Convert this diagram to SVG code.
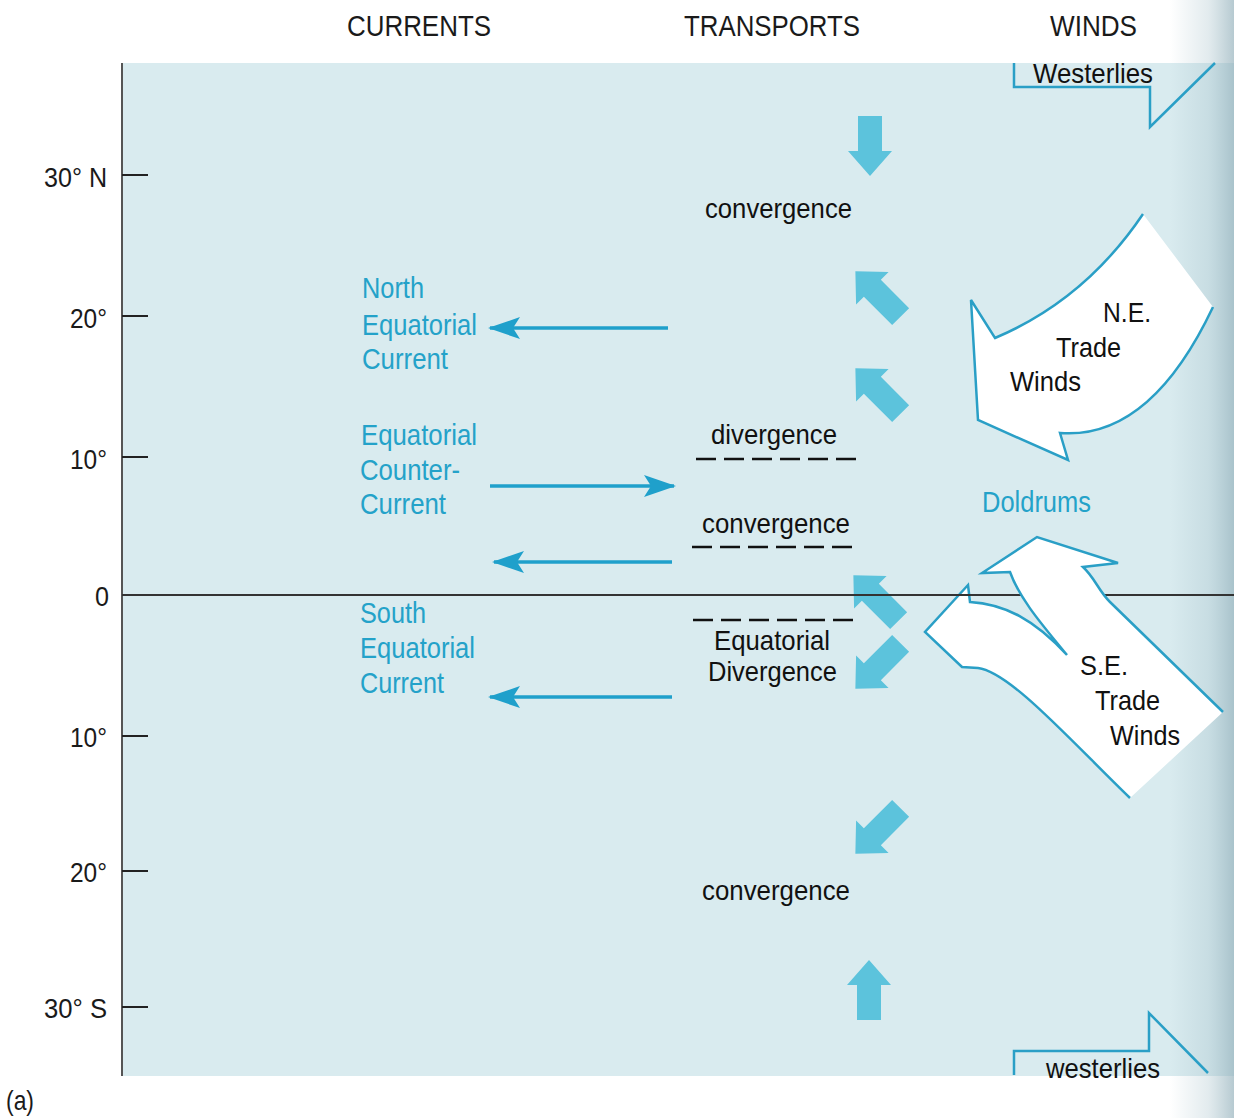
<svg xmlns="http://www.w3.org/2000/svg" width="1234" height="1118" viewBox="0 0 1234 1118">
<defs>
  <linearGradient id="shade" x1="0" y1="0" x2="1" y2="0">
    <stop offset="0" stop-color="#9fbcc6" stop-opacity="0"/>
    <stop offset="0.6" stop-color="#9fbcc6" stop-opacity="0.3"/>
    <stop offset="1" stop-color="#8fadb8" stop-opacity="0.65"/>
  </linearGradient>
  <marker id="head" viewBox="0 0 32 24" refX="30" refY="12" markerWidth="32" markerHeight="24" markerUnits="userSpaceOnUse" orient="auto">
    <path d="M0,1 L32,12 L0,23 L7,12 Z" fill="#1fa0cb"/>
  </marker>
  <path id="tarrow" d="M0,-30 L22,-5 L12,-5 L12,30 L-12,30 L-12,-5 L-22,-5 Z"/>
  <path id="tarrowd" d="M0,-32 L23,-8 L12,-8 L12,32 L-12,32 L-12,-8 L-23,-8 Z"/>
</defs>
<style>
  text { font-family: "Liberation Sans", Arial, sans-serif; }
  .hdr { font-size: 30px; fill: #1a1a1a; }
  .ax { font-size: 28px; fill: #1a1a1a; }
  .cur { font-size: 29px; fill: #24a2c9; }
  .lbl { font-size: 28px; fill: #111; }
  .curline { stroke: #1fa0cb; stroke-width: 3.5; fill: none; marker-end: url(#head); }
  .tr { fill: #5cc3dc; }
  .dash { stroke: #111; stroke-width: 2.5; stroke-dasharray: 20 8; }
  .wind { fill: #ffffff; stroke: none; }
  .windline { fill: none; stroke: #2a9fc6; stroke-width: 2.5; stroke-linejoin: miter; }
  .tick { stroke: #222; stroke-width: 2; }
</style>

<rect x="0" y="0" width="1234" height="1118" fill="#ffffff"/>
<g id="panel">
  <rect x="122" y="63" width="1112" height="1013" fill="#d9ebef"/>
  <rect x="1170" y="0" width="64" height="1118" fill="url(#shade)"/>
  <line x1="122" y1="63" x2="122" y2="1076" stroke="#555" stroke-width="2"/>
</g>

<g id="headers">
  <text class="hdr" x="347" y="36" textLength="144" lengthAdjust="spacingAndGlyphs">CURRENTS</text>
  <text class="hdr" x="684" y="36" textLength="176" lengthAdjust="spacingAndGlyphs">TRANSPORTS</text>
  <text class="hdr" x="1050" y="36" textLength="87" lengthAdjust="spacingAndGlyphs">WINDS</text>
</g>

<g id="axis">
  <line class="tick" x1="122" y1="175" x2="148" y2="175"/>
  <line class="tick" x1="122" y1="316" x2="148" y2="316"/>
  <line class="tick" x1="122" y1="457" x2="148" y2="457"/>
  <line class="tick" x1="122" y1="736" x2="148" y2="736"/>
  <line class="tick" x1="122" y1="871" x2="148" y2="871"/>
  <line class="tick" x1="122" y1="1007" x2="148" y2="1007"/>
  <text class="ax" x="44" y="187" textLength="63" lengthAdjust="spacingAndGlyphs">30° N</text>
  <text class="ax" x="70" y="328" textLength="37" lengthAdjust="spacingAndGlyphs">20°</text>
  <text class="ax" x="70" y="469" textLength="37" lengthAdjust="spacingAndGlyphs">10°</text>
  <text class="ax" x="95" y="606" textLength="14" lengthAdjust="spacingAndGlyphs">0</text>
  <text class="ax" x="70" y="747" textLength="37" lengthAdjust="spacingAndGlyphs">10°</text>
  <text class="ax" x="70" y="882" textLength="37" lengthAdjust="spacingAndGlyphs">20°</text>
  <text class="ax" x="44" y="1018" textLength="63" lengthAdjust="spacingAndGlyphs">30° S</text>
  <text class="ax" x="6" y="1110" textLength="28" lengthAdjust="spacingAndGlyphs">(a)</text>
</g>

<g id="transport-arrows">
  <use href="#tarrow" class="tr" transform="translate(870,146) rotate(180)"/>
  <use href="#tarrowd" class="tr" transform="translate(878,294) rotate(-45)"/>
  <use href="#tarrowd" class="tr" transform="translate(878,391) rotate(-45)"/>
  <use href="#tarrowd" class="tr" transform="translate(876,598) rotate(-45)"/>
  <use href="#tarrowd" class="tr" transform="translate(878,666) rotate(-135)"/>
  <use href="#tarrowd" class="tr" transform="translate(878,831) rotate(-135)"/>
  <use href="#tarrow" class="tr" transform="translate(869,990)"/>
</g>

<line id="equator" x1="122" y1="595" x2="1234" y2="595" stroke="#333" stroke-width="2"/>

<g id="connectors">
  <line class="curline" x1="668" y1="328" x2="490" y2="328"/>
  <line class="curline" x1="490" y1="486" x2="674" y2="486"/>
  <line class="curline" x1="672" y1="562" x2="494" y2="562"/>
  <line class="curline" x1="672" y1="697" x2="490" y2="697"/>
</g>

<g id="currents-labels">
  <text class="cur" x="362" y="298" textLength="62" lengthAdjust="spacingAndGlyphs">North</text>
  <text class="cur" x="362" y="335" textLength="115" lengthAdjust="spacingAndGlyphs">Equatorial</text>
  <text class="cur" x="362" y="369" textLength="86" lengthAdjust="spacingAndGlyphs">Current</text>
  <text class="cur" x="361" y="445" textLength="116" lengthAdjust="spacingAndGlyphs">Equatorial</text>
  <text class="cur" x="360" y="480" textLength="100" lengthAdjust="spacingAndGlyphs">Counter-</text>
  <text class="cur" x="360" y="514" textLength="86" lengthAdjust="spacingAndGlyphs">Current</text>
  <text class="cur" x="360" y="623" textLength="66" lengthAdjust="spacingAndGlyphs">South</text>
  <text class="cur" x="360" y="658" textLength="115" lengthAdjust="spacingAndGlyphs">Equatorial</text>
  <text class="cur" x="360" y="693" textLength="84" lengthAdjust="spacingAndGlyphs">Current</text>
</g>

<g id="transport-labels">
  <text class="lbl" x="705" y="218" textLength="147" lengthAdjust="spacingAndGlyphs">convergence</text>
  <text class="lbl" x="711" y="444" textLength="126" lengthAdjust="spacingAndGlyphs">divergence</text>
  <line class="dash" x1="696" y1="459" x2="860" y2="459"/>
  <text class="lbl" x="702" y="533" textLength="148" lengthAdjust="spacingAndGlyphs">convergence</text>
  <line class="dash" x1="692" y1="547" x2="856" y2="547"/>
  <line class="dash" x1="693" y1="620" x2="857" y2="620"/>
  <text class="lbl" x="714" y="650" textLength="116" lengthAdjust="spacingAndGlyphs">Equatorial</text>
  <text class="lbl" x="708" y="681" textLength="129" lengthAdjust="spacingAndGlyphs">Divergence</text>
  <text class="lbl" x="702" y="900" textLength="148" lengthAdjust="spacingAndGlyphs">convergence</text>
</g>

<g id="westerlies-north">
  <polyline class="windline" points="1014,63 1014,87 1150,87 1150,127 1215,63"/>
  <text class="lbl" x="1033" y="83" textLength="120" lengthAdjust="spacingAndGlyphs">Westerlies</text>
</g>

<g id="ne-trade-winds">
  <path class="wind" d="M1143,214 Q1085,300 995,338 L971,300 L978,420 L1068,460 L1060,433 Q1150,440 1213,307 Z"/>
  <path class="windline" d="M1143,214 Q1085,300 995,338 L971,300 L978,420 L1068,460 L1060,433 Q1150,440 1213,307"/>
  <text class="lbl" x="1103" y="322" textLength="48" lengthAdjust="spacingAndGlyphs">N.E.</text>
  <text class="lbl" x="1056" y="357" textLength="65" lengthAdjust="spacingAndGlyphs">Trade</text>
  <text class="lbl" x="1010" y="391" textLength="71" lengthAdjust="spacingAndGlyphs">Winds</text>
</g>

<g id="doldrums">
  <text class="cur" x="982" y="512" textLength="109" lengthAdjust="spacingAndGlyphs">Doldrums</text>
</g>

<g id="se-trade-winds">
  <path class="wind" d="M1130,798 C1070,740 1010,672 978,668 L962,667 L925,632 L968,585 L970,602 C1005,604 1035,620 1067,655 C1045,628 1020,600 1010,572 L982,573 L1037,537 L1118,563 L1083,567 C1095,578 1098,590 1110,602 L1223,712 Z"/>
  <path class="windline" d="M1130,798 C1070,740 1010,672 978,668 L962,667 L925,632 L968,585 L970,602 C1005,604 1035,620 1067,655 C1045,628 1020,600 1010,572 L982,573 L1037,537 L1118,563 L1083,567 C1095,578 1098,590 1110,602 L1223,712"/>
  <line x1="122" y1="595" x2="1012" y2="595" stroke="#333" stroke-width="2"/>
  <text class="lbl" x="1080" y="675" textLength="48" lengthAdjust="spacingAndGlyphs">S.E.</text>
  <text class="lbl" x="1095" y="710" textLength="65" lengthAdjust="spacingAndGlyphs">Trade</text>
  <text class="lbl" x="1110" y="745" textLength="70" lengthAdjust="spacingAndGlyphs">Winds</text>
</g>

<g id="westerlies-south">
  <polyline class="windline" points="1014,1075 1014,1051 1149,1051 1149,1013 1208,1073"/>
  <text class="lbl" x="1046" y="1078" textLength="114" lengthAdjust="spacingAndGlyphs">westerlies</text>
</g>
</svg>
